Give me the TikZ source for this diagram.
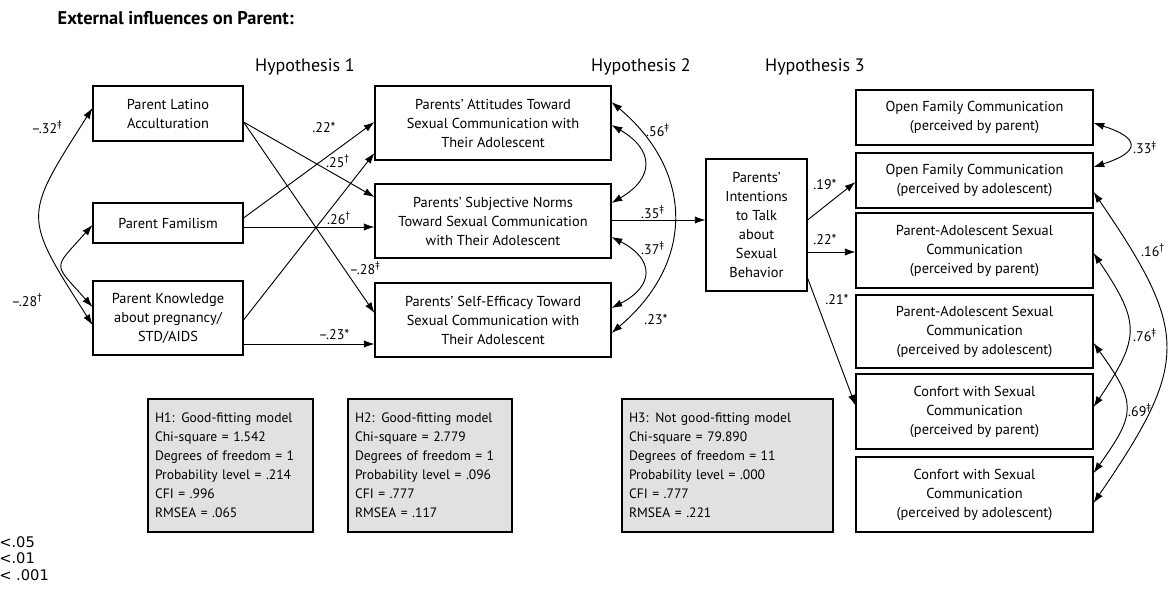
\documentclass[tikz,border=0pt]{standalone}
\usepackage{fontspec}
\setmainfont{PT Sans}
\newfontfamily\legendfont{DejaVu Sans}
\usetikzlibrary{arrows.meta,calc}
\definecolor{statgray}{RGB}{225,225,225}
\newcommand{\dg}{\textsuperscript{†}}
\newcommand{\ddg}{\textsuperscript{‡}}
\tikzset{
  box/.style 2 args={draw, line width=0.8pt, align=center, inner sep=2pt,
    minimum width=#1, minimum height=#2, font=\fontsize{10.8}{14.25}\selectfont},
  stat/.style={draw, line width=0.8pt, fill=statgray, align=left, inner xsep=5.25pt,
    text width=#1, minimum height=99.75pt, font=\fontsize{10.2}{14.25}\selectfont},
  hyp/.style={font=\fontsize{13.5}{16}\selectfont},
  coef/.style={font=\fontsize{10.5}{12}\selectfont, inner sep=1pt},
  arr/.style={-{Latex[length=8pt,width=5.5pt]}, line width=0.7pt},
  dbl/.style={{Latex[length=8pt,width=5.5pt]}-{Latex[length=8pt,width=5.5pt]}, line width=0.7pt}
}

\begin{document}
\begin{tikzpicture}[x=0.75pt,y=-0.75pt]
\useasboundingbox (0,0) rectangle (1173,604);

\node[anchor=west, font=\bfseries\fontsize{13.8}{16}\selectfont] (title) at (53,18) {External influences on Parent:};
\node[hyp] (hyp1) at (305,67) {Hypothesis 1};
\node[hyp] (hyp2) at (641,67) {Hypothesis 2};
\node[hyp] (hyp3) at (815,67) {Hypothesis 3};

% parent influences
\node[box={112.5pt}{41.25pt}] (acc) at (168,113.5) {Parent Latino\\Acculturation};
\node[box={112.5pt}{30pt}] (fam) at (168,223) {Parent Familism};
\node[box={112.5pt}{55.5pt}] (know) at (168,318) {Parent Knowledge\\about pregnancy/\\STD/AIDS};

% hypothesis 2 variables
\node[box={177pt}{55.5pt}] (att) at (493,123) {Parents' Attitudes Toward\\Sexual Communication with\\Their Adolescent};
\node[box={177pt}{55.5pt}] (norms) at (493,221) {Parents' Subjective Norms\\Toward Sexual Communication\\with Their Adolescent};
\node[box={177pt}{55.5pt}] (selfeff) at (493,320) {Parents' Self-Efficacy Toward\\Sexual Communication with\\Their Adolescent};

\node[box={75.75pt}{99pt}] (intent) at (756.5,225) {Parents'\\Intentions\\to Talk\\about\\Sexual\\Behavior};

% outcomes
\node[box={177.75pt}{41.25pt}] (ofp) at (974.5,117.5) {Open Family Communication\\(perceived by parent)};
\node[box={177.75pt}{41.25pt}] (ofa) at (974.5,180.5) {Open Family Communication\\(perceived by adolescent)};
\node[box={177.75pt}{56.25pt}] (pascp) at (974.5,250.5) {Parent-Adolescent Sexual\\Communication\\(perceived by parent)};
\node[box={177.75pt}{54.75pt}] (pasca) at (974.5,331.5) {Parent-Adolescent Sexual\\Communication\\(perceived by adolescent)};
\node[box={177.75pt}{56.25pt}] (cfp) at (974.5,411.5) {Confort with Sexual\\Communication\\(perceived by parent)};
\node[box={177.75pt}{56.25pt}] (cfa) at (974.5,494.5) {Confort with Sexual\\Communication\\(perceived by adolescent)};

% fit statistics
\node[stat=113.25pt] (h1) at (230.5,465.5) {H1: Good-fitting model\\Chi-square = 1.542\\Degrees of freedom = 1\\Probability level = .214\\CFI = .996\\RMSEA = .065};
\node[stat=112.5pt] (h2) at (430,465.5) {H2: Good-fitting model\\Chi-square = 2.779\\Degrees of freedom = 1\\Probability level = .096\\CFI = .777\\RMSEA = .117};
\node[stat=147.75pt] (h3) at (727.5,465.5) {H3: Not good-fitting model\\Chi-square = 79.890\\Degrees of freedom = 11\\Probability level = .000\\CFI = .777\\RMSEA = .221};

% paths
\draw[arr] ($(acc.east)+(0,8.5)$) -- ($(norms.west)+(0,-24)$);
\draw[arr] ($(acc.east)+(0,8.5)$) -- ($(selfeff.west)+(0,-7)$);
\draw[arr] ($(fam.east)+(0,-5)$) -- ($(att.west)+(0,-1)$);
\draw[arr] ($(fam.east)+(0,4)$) -- ($(norms.west)+(0,6)$);
\draw[arr] ($(know.east)+(0,2)$) -- ($(att.west)+(0,30)$);
\draw[arr] ($(know.east)+(0,26)$) -- ($(selfeff.west)+(0,24)$);
\draw[arr] ($(norms.east)+(0,-1)$) -- ($(intent.west)+(0,-5)$);
\draw[arr] ($(intent.east)+(0,-5)$) -- ($(ofa.west)+(0,1.5)$);
\draw[arr] ($(intent.east)+(0,27)$) -- ($(pascp.west)+(0,1.5)$);
\draw[arr] ($(intent.east)+(0,53)$) -- ($(cfp.west)+(0,-6)$);

% correlations
\draw[dbl] ($(acc.west)+(0,-5.5)$) .. controls +(-70,110) and +(-70,-110) .. ($(know.west)+(0,7)$);
\draw[dbl] ($(fam.west)+(0,2)$) .. controls +(-40,45) and +(-40,-45) .. ($(know.west)+(0,-11)$);
\draw[dbl] ($(att.east)+(0,2)$) .. controls +(43,25) and +(43,-25) .. ($(norms.east)+(0,-18)$);
\draw[dbl] ($(norms.east)+(0,16)$) .. controls +(43,22) and +(43,-22) .. ($(selfeff.east)+(0,-12)$);
\draw[dbl] ($(att.east)+(0,-21)$) .. controls +(83,70) and +(83,-70) .. ($(selfeff.east)+(0,13)$);
\draw[dbl] ($(ofp.east)+(0,5.5)$) .. controls +(47,15) and +(47,-15) .. ($(ofa.east)+(0,-13.5)$);
\draw[dbl] ($(ofa.east)+(0,11.5)$) .. controls +(96,140) and +(96,-140) .. ($(cfa.east)+(0,8.5)$);
\draw[dbl] ($(pascp.east)+(0,2.5)$) .. controls +(47,70) and +(47,-70) .. ($(cfp.east)+(0,-4.5)$);
\draw[dbl] ($(pasca.east)+(0,11.5)$) .. controls +(43,60) and +(43,-60) .. ($(cfa.east)+(0,-21.5)$);

% coefficients
\node[coef] (c1) at (324,128) {.22*};
\node[coef] (c2) at (338,161) {.25\dg};
\node[coef] (c3) at (339,218) {.26\dg};
\node[coef] (c4) at (365,268) {–.28\ddg};
\node[coef] (c5) at (334,335) {–.23*};
\node[coef] (c6) at (47,127) {–.32\ddg};
\node[coef] (c7) at (27,300) {–.28\dg};
\node[coef] (c8) at (658,130) {.56\ddg};
\node[coef] (c9) at (653,248) {.37\ddg};
\node[coef] (c10) at (656,320) {.23*};
\node[coef] (c11) at (653,212) {.35\ddg};
\node[coef] (c12) at (825,185) {.19*};
\node[coef] (c13) at (825,240) {.22*};
\node[coef] (c14) at (837,300) {.21*};
\node[coef] (c15) at (1145,148) {.33\ddg};
\node[coef] (c16) at (1153,250) {.16\dg};
\node[coef] (c17) at (1145,335) {.76\ddg};
\node[coef] (c18) at (1140,410) {.69\ddg};

% legend
\node[anchor=west, inner sep=0pt, font=\legendfont\fontsize{11}{13}\selectfont] (p1) at (-1,542) {<.05};
\node[anchor=west, inner sep=0pt, font=\legendfont\fontsize{11}{13}\selectfont] (p2) at (-1,558) {<.01};
\node[anchor=west, inner sep=0pt, font=\legendfont\fontsize{11}{13}\selectfont] (p3) at (-1,575) {< .001};
\end{tikzpicture}
\end{document}
